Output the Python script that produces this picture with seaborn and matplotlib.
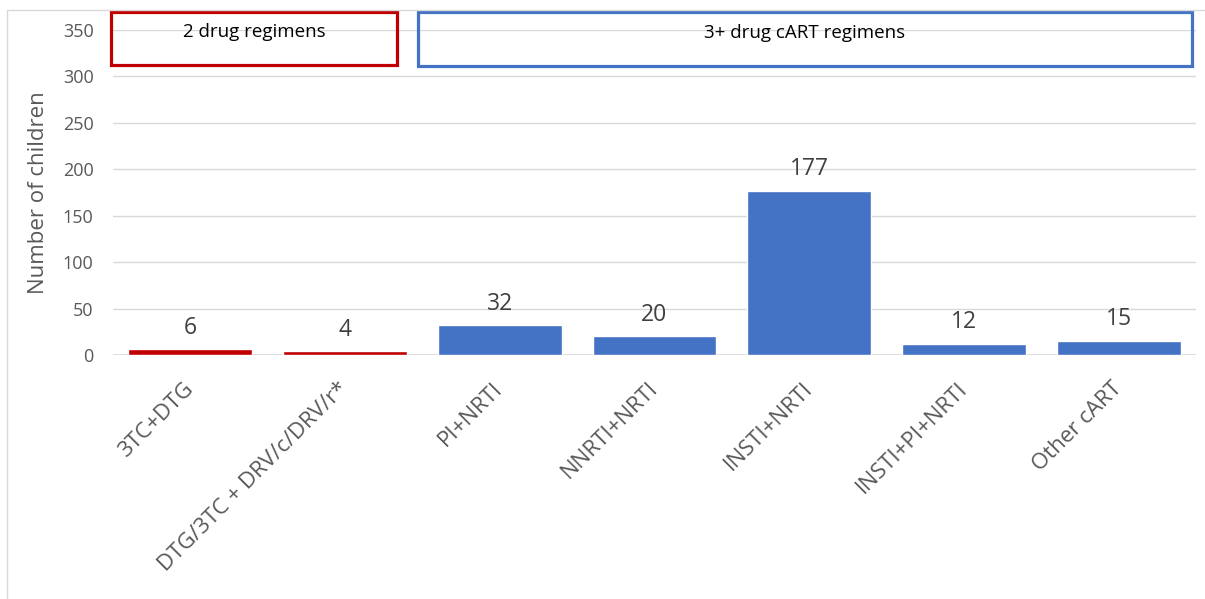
import matplotlib
matplotlib.use("Agg")
import matplotlib.pyplot as plt
import seaborn as sns
import pandas as pd
from matplotlib.patches import Rectangle

# Regimen categories and number of children on each
regimens = ["3TC+DTG", "DTG/3TC + DRV/c/DRV/r*", "PI+NRTI", "NNRTI+NRTI",
            "INSTI+NRTI", "INSTI+PI+NRTI", "Other cART"]
children = [6, 4, 32, 20, 177, 12, 15]
regimen_group = ["2 drug", "2 drug", "3+ drug", "3+ drug", "3+ drug", "3+ drug", "3+ drug"]
y_ticks = [0, 50, 100, 150, 200, 250, 300, 350]

group_colors = {"2 drug": "#C00000", "3+ drug": "#4472C4"}

df = pd.DataFrame({"regimen": regimens, "children": children, "group": regimen_group})

sns.set_theme(style="white")
plt.rcParams["font.family"] = ["Open Sans", "DejaVu Sans"]

fig = plt.figure(figsize=(12.05, 5.99), dpi=100)
ax = fig.add_axes([113 / 1205, 1 - 355 / 599, (1196 - 113) / 1205, (355 - 30) / 599])

sns.barplot(data=df, x="regimen", y="children", hue="group", palette=group_colors,
            dodge=False, width=0.8, saturation=1, legend=False, ax=ax)

for container in ax.containers:
    labels = [f"{v:.0f}" if v > 0 else "" for v in container.datavalues]
    ax.bar_label(container, labels=labels, padding=7, fontsize=16.5, color="#404040")

ax.set_ylim(0, 350)
ax.set_xlim(-0.5, len(regimens) - 0.5)
ax.set_yticks(y_ticks)
ax.yaxis.grid(True, color="#D9D9D9", linewidth=1)
ax.set_axisbelow(True)
for side in ["left", "right", "top", "bottom"]:
    ax.spines[side].set_visible(False)
ax.axhline(0, color="#D9D9D9", linewidth=1.2, zorder=0)

ax.tick_params(axis="y", labelsize=13, labelcolor="#595959", length=0, pad=14)
ax.tick_params(axis="x", labelsize=16, labelcolor="#595959", length=0, pad=22)
plt.setp(ax.get_xticklabels(), rotation=45, ha="right", va="center", rotation_mode="anchor")

ax.set_xlabel("")
ax.set_ylabel("Number of children", fontsize=16, color="#595959", labelpad=10)

# Group header boxes above the bars
ax.add_patch(Rectangle((-0.513, 312), 1.851, 57, fill=False, edgecolor="#C00000",
                       linewidth=2.3, clip_on=False, zorder=5))
ax.text((-0.513 + 1.338) / 2, 348, "2 drug regimens", ha="center", va="center",
        fontsize=13.5, color="black", clip_on=False)
ax.add_patch(Rectangle((1.474, 311), 4.997, 58, fill=False, edgecolor="#4472C4",
                       linewidth=2.3, clip_on=False, zorder=5))
ax.text((1.474 + 6.471) / 2, 347, "3+ drug cART regimens", ha="center", va="center",
        fontsize=13.5, color="black", clip_on=False)

# Light chart-area border
fig.patches.append(Rectangle((7 / 1205, -0.1), 1.2, 1 - 10 / 599 + 0.1, fill=False,
                             edgecolor="#D9D9D9", linewidth=1,
                             transform=fig.transFigure, figure=fig))

fig.savefig("out.png", dpi=100)
